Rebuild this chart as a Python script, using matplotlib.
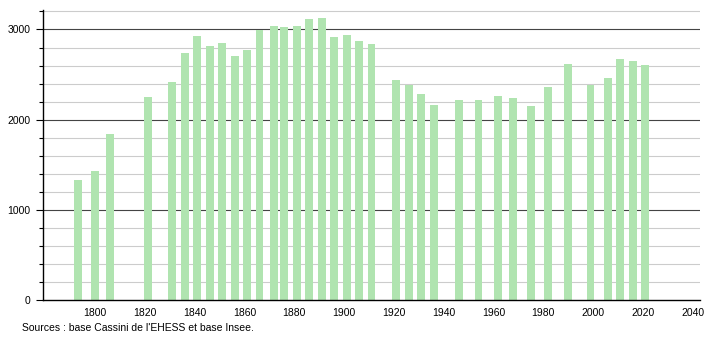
import matplotlib
matplotlib.use('Agg')
from matplotlib import pyplot as plt
import numpy as np

plt.rcParams['font.family'] = ['Liberation Sans', 'DejaVu Sans']

years = [1793, 1800, 1806, 1821, 1831, 1836, 1841, 1846, 1851, 1856, 1861, 1866,
         1872, 1876, 1881, 1886, 1891, 1896, 1901, 1906, 1911, 1921, 1926, 1931,
         1936, 1946, 1954, 1962, 1968, 1975, 1982, 1990, 1999, 2006, 2011, 2016, 2021]
population = [1331, 1430, 1837, 2255, 2418, 2740, 2928, 2817, 2850, 2710, 2773, 2995,
              3039, 3028, 3039, 3117, 3128, 2920, 2936, 2873, 2843, 2440, 2388, 2285,
              2163, 2221, 2221, 2262, 2240, 2152, 2359, 2617, 2384, 2462, 2669, 2650, 2606]
xticks = [1800, 1820, 1840, 1860, 1880, 1900, 1920, 1940, 1960, 1980, 2000, 2020, 2040]
yticks = [0, 1000, 2000, 3000]

fig = plt.figure(figsize=(7.1, 3.4), dpi=100)
ax = fig.add_axes([43 / 710, 40 / 340, 657 / 710, 290 / 340])

# grid: light every 200, dark every 1000
for v in range(200, 3201, 200):
    if v % 1000 == 0:
        ax.axhline(v, color='#444444', linewidth=0.8, zorder=1)
    else:
        ax.axhline(v, color='#cccccc', linewidth=0.8, zorder=1)

ax.bar(years, population, width=3.2, color='#b0e4b0', zorder=2)

ax.set_xlim(1779, 2043)
ax.set_ylim(0, 3216)
ax.set_xticks(xticks)
ax.set_yticks(yticks)
ax.set_yticks(range(200, 3201, 200), minor=True)
ax.tick_params(axis='x', length=0, labelsize=7.5, pad=6)
ax.tick_params(axis='y', which='major', length=5, width=0.8, labelsize=7.5, pad=4)
ax.tick_params(axis='y', which='minor', length=3, width=0.8)

for s in ['top', 'right']:
    ax.spines[s].set_visible(False)
ax.spines['left'].set_linewidth(1)
ax.spines['bottom'].set_linewidth(1)

fig.text(22 / 710, 1 - 328 / 340, "Sources : base Cassini de l'EHESS et base Insee.",
         fontsize=7.5, va='center', ha='left')

plt.savefig('out.png', dpi=100)
